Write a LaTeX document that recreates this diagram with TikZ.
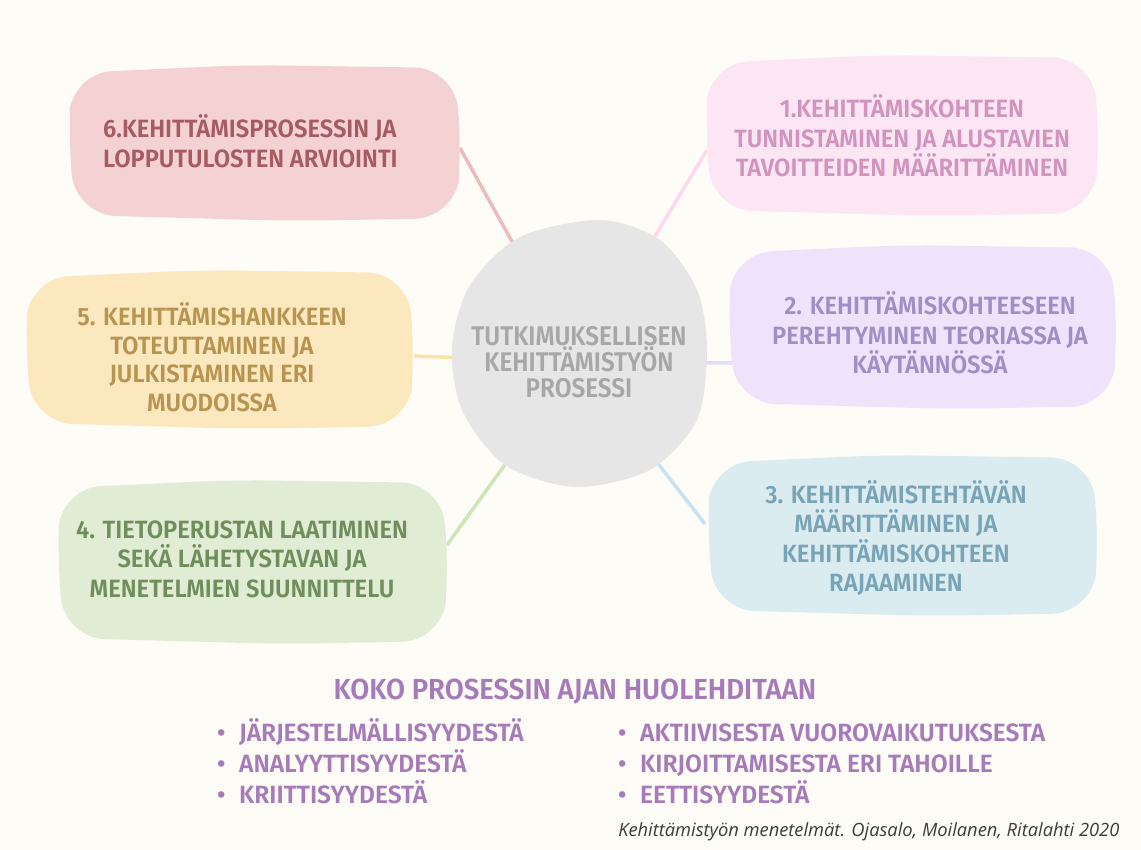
\documentclass[tikz,border=0pt]{standalone}
\usepackage{fontspec}
\setmainfont{Fira Sans}
\newfontfamily\boxfont{Fira Sans SemiBold}[FakeStretch=0.95]
\newfontfamily\hubfont{Fira Sans SemiBold}[FakeStretch=0.9]
\newfontfamily\carefont{Fira Sans SemiBold}[FakeStretch=0.98]
\newfontfamily\notefont{Open Sans}
\usepackage{tikz}
\usetikzlibrary{backgrounds}

\definecolor{paper}{HTML}{FDFCF7}
\definecolor{fillA}{HTML}{FDE6F4}\definecolor{textA}{HTML}{D293BE}\definecolor{linkA}{HTML}{FCD9EE}
\definecolor{fillB}{HTML}{EEE3FB}\definecolor{textB}{HTML}{A38DC7}\definecolor{linkB}{HTML}{E6D9FC}
\definecolor{fillC}{HTML}{DBECF1}\definecolor{textC}{HTML}{78A4B6}\definecolor{linkC}{HTML}{C5E3F0}
\definecolor{fillD}{HTML}{E0ECD4}\definecolor{textD}{HTML}{6F8E5C}\definecolor{linkD}{HTML}{CDE5B8}
\definecolor{fillE}{HTML}{FBE8BF}\definecolor{textE}{HTML}{B99350}\definecolor{linkE}{HTML}{FBE3A8}
\definecolor{fillF}{HTML}{F4D1D2}\definecolor{textF}{HTML}{A65B63}\definecolor{linkF}{HTML}{EDBABD}
\definecolor{hubfill}{HTML}{E6E6E6}\definecolor{hubtext}{HTML}{A7A7A7}
\definecolor{careviolet}{HTML}{A77BBA}\definecolor{notegray}{HTML}{3C3C3C}

% hand drawn looking box: colour, x1, y1, x2, y2
\newcommand{\blobbox}[5]{%
  \fill[#1, rounded corners=40pt]
    ({(#2+#4)/2-20},{#3}) -- ({#4-6},{#3+3})
    -- ({#4+2},{(#3+#5)/2+6}) -- ({#4-5},{#5-2})
    -- ({(#2+#4)/2+30},{#5+1}) -- ({#2+8},{#5-5})
    -- ({#2},{(#3+#5)/2-4}) -- ({#2+4},{#3+8}) -- cycle;}
\newcommand{\dotitem}{\makebox[22pt][l]{\textbullet}\vphantom{Ä}}

\begin{document}
\begin{tikzpicture}[x=1pt, y=-1pt,
    boxtext/.style={font=\boxfont\fontsize{25}{29.5}\selectfont, align=center, inner sep=0pt},
    hubnode/.style={circle, minimum size=254pt, inner sep=0pt, align=center,
        font=\hubfont\fontsize{27}{26}\selectfont, text=hubtext},
    caretext/.style={font=\carefont\fontsize{25}{31}\selectfont, text=careviolet, inner sep=0pt},
    link/.style={line width=3.5pt}]

        \useasboundingbox (0,0) rectangle (1141,850);

        \node[hubnode] (hub) at (579,362) {TUTKIMUKSELLISEN\\KEHITTÄMISTYÖN\\PROSESSI};

        \node[boxtext, text=textA] (s1) at (902,136)
            {1.KEHITTÄMISKOHTEEN\\TUNNISTAMINEN JA ALUSTAVIEN\\TAVOITTEIDEN MÄÄRITTÄMINEN};
        \node[boxtext, text=textB] (s2) at (930,333)
            {2. KEHITTÄMISKOHTEESEEN\\PEREHTYMINEN TEORIASSA JA\\KÄYTÄNNÖSSÄ};
        \node[boxtext, text=textC] (s3) at (896,538)
            {3. KEHITTÄMISTEHTÄVÄN\\MÄÄRITTÄMINEN JA\\KEHITTÄMISKOHTEEN\\RAJAAMINEN};
        \node[boxtext, text=textD] (s4) at (242,559)
            {4. TIETOPERUSTAN LAATIMINEN\\SEKÄ LÄHETYSTAVAN JA\\MENETELMIEN SUUNNITTELU};
        \node[boxtext, text=textE, font=\boxfont\fontsize{25}{28.5}\selectfont] (s5) at (212,357)
            {5. KEHITTÄMISHANKKEEN\\TOTEUTTAMINEN JA\\JULKISTAMINEN ERI\\MUODOISSA};
        \node[boxtext, text=textF, align=left, anchor=west] (s6) at (103,141)
            {6.KEHITTÄMISPROSESSIN JA\\LOPPUTULOSTEN ARVIOINTI};

        \coordinate (e1) at (707,150);
        \coordinate (e2) at (747,363);
        \coordinate (e3) at (705,524);
        \coordinate (e4) at (447,545);
        \coordinate (e5) at (414,356);
        \coordinate (e6) at (460,148);

        \node[caretext, font=\boxfont\fontsize{29}{31}\selectfont] (care) at (575,692)
            {KOKO PROSESSIN AJAN HUOLEHDITAAN};
        \node[caretext, align=left, anchor=west] (careL) at (217,761)
            {\dotitem JÄRJESTELMÄLLISYYDESTÄ\\\dotitem ANALYYTTISYYDESTÄ\\\dotitem KRIITTISYYDESTÄ};
        \node[caretext, align=left, anchor=west] (careR) at (618,761)
            {\dotitem AKTIIVISESTA VUOROVAIKUTUKSESTA\\\dotitem KIRJOITTAMISESTA ERI TAHOILLE\\\dotitem EETTISYYDESTÄ};
        \node[font=\notefont\itshape\fontsize{18.3}{20}\selectfont, text=notegray, anchor=east] (src)
            at (1123,832) {Kehittämistyön menetelmät. Ojasalo, Moilanen, Ritalahti 2020};

        \begin{pgfonlayer}{background}
        \fill[paper] (0,0) rectangle (1141,850);
        \draw[link, linkA] (e1) -- (hub);
        \draw[link, linkB] (e2) -- (hub);
        \draw[link, linkC] (e3) -- (hub);
        \draw[link, linkD] (e4) -- (hub);
        \draw[link, linkE] (e5) -- (hub);
        \draw[link, linkF] (e6) -- (hub);
        \blobbox{fillA}{705}{55}{1098}{215}
        \blobbox{fillB}{728}{245}{1116}{408}
        \blobbox{fillC}{707}{455}{1097}{615}
        \blobbox{fillD}{57}{480}{447}{643}
        \blobbox{fillE}{25}{270}{413}{428}
        \blobbox{fillF}{68}{65}{460}{220}
        \fill[hubfill] plot[smooth cycle] coordinates {(600,220) (660,240) (697,290) (707,350)
            (697,420) (650,470) (575,487) (505,465) (462,410) (452,347) (470,285) (520,237)};
        \end{pgfonlayer}

    \end{tikzpicture}
\end{document}
